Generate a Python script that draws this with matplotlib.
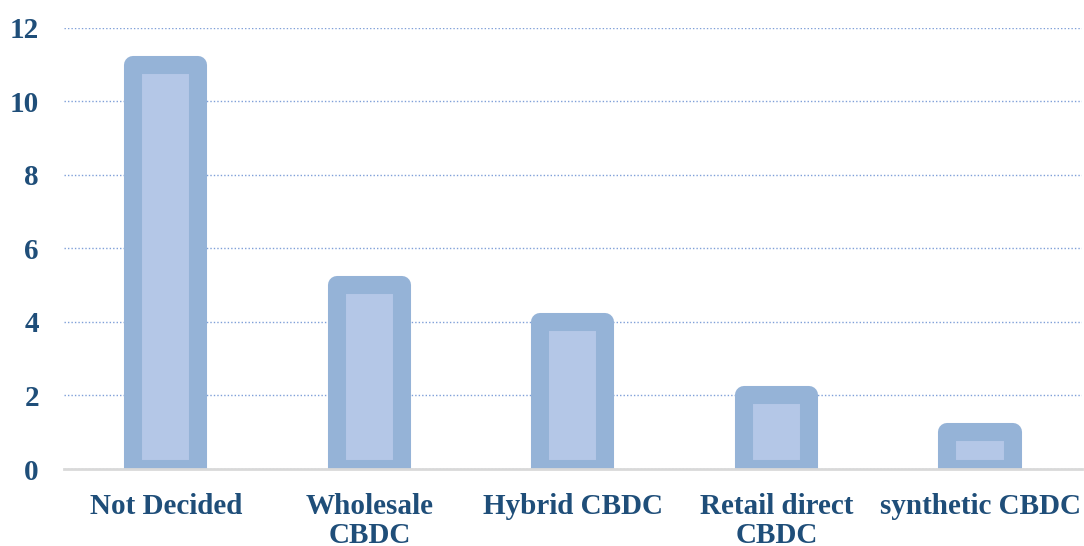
import matplotlib.pyplot as plt
import numpy as np

# chart data
categories = ["Not Decided", "Wholesale\nCBDC", "Hybrid CBDC", "Retail direct\nCBDC", "synthetic CBDC"]
counts = [11, 5, 4, 2, 1]
yticks = [0, 2, 4, 6, 8, 10, 12]

text_color = "#1F4E79"
plt.rcParams['font.family'] = ['Liberation Serif', 'DejaVu Serif']

fig = plt.figure(figsize=(10.84, 5.46), dpi=100)
ax = fig.add_axes([0.059, 0.141, 0.939, 0.808])

x = np.arange(len(categories))
ax.bar(x, counts, width=0.32, color="#B4C7E7", edgecolor="#95B3D7",
       linewidth=13, joinstyle="round", zorder=3)

ax.set_xlim(-0.5, len(categories) - 0.5)
ax.set_ylim(0, 12)
ax.set_yticks(yticks)
ax.set_xticks(x)
ax.set_xticklabels(categories, linespacing=1.1)

ax.grid(axis="y", linestyle=(0, (1, 1.5)), color="#7F9FD8", linewidth=1, zorder=0)
for s in ["top", "right", "left"]:
    ax.spines[s].set_visible(False)
ax.spines["bottom"].set_color("#D9D9D9")
ax.spines["bottom"].set_linewidth(2)
ax.spines["bottom"].set_zorder(4)

ax.tick_params(axis="both", length=0, labelsize=21, labelcolor=text_color)
ax.tick_params(axis="y", pad=18)
ax.tick_params(axis="x", pad=17)
for lab in ax.get_xticklabels() + ax.get_yticklabels():
    lab.set_fontweight("bold")

fig.savefig("out.png", dpi=100)
